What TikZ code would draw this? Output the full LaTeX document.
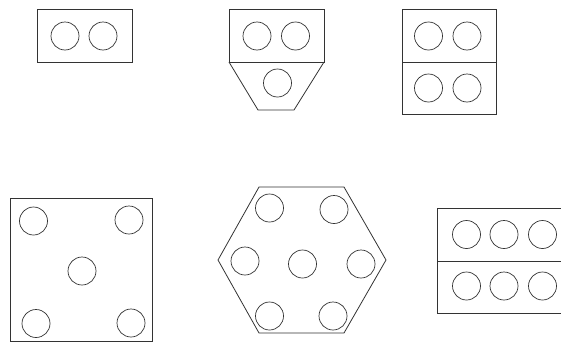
\documentclass[tikz,border=0pt]{standalone}
\usetikzlibrary{positioning}
\tikzset{
  hole/.style={draw=black!80, circle, minimum size=28pt, inner sep=0pt, line width=0.7pt},
  plate/.style={draw=black!80, line width=0.8pt}
}
\begin{document}
\begin{tikzpicture}[x=1pt,y=-1pt]
\useasboundingbox (0,0) rectangle (561,343);
\clip (0,0) rectangle (561,343);
% Two holes in a row
\draw[plate] (37,9) rectangle (132,62);
\foreach \x/\n in {65/a,103/b} \node[hole] (one\n) at (\x,36) {};
% Two holes over one
\draw[plate] (229,9) rectangle (324,62);
\draw[plate] (229,62) -- (258,110) -- (294,110) -- (324,62);
\foreach \x/\n in {257/a,295.5/b} \node[hole] (two\n) at (\x,36) {};
\node[hole] (twoc) at (277.5,83) {};
% Two over two
\draw[plate] (402,9) rectangle (496,114);
\draw[plate] (402,62) -- (496,62);
\foreach \x/\n in {428.5/a,467/b} {
  \node[hole] (three\n) at (\x,36) {};
  \node[hole] (three\n d) at (\x,88) {};
}
% Square with five holes
\draw[plate] (10,198) rectangle (152,341.5);
\foreach \x/\y/\n in {33.5/221/a,129/220/b,82/271/c,36/323.5/d,131/323/e}
  \node[hole] (four\n) at (\x,\y) {};
% Hexagon with seven holes
\draw[plate] (259,187) -- (344,187) -- (386,260) -- (344,333) -- (259,333) -- (218,260) -- cycle;
\foreach \x/\y/\n in {269.5/208/a,334/209.5/b,245/261/c,302.5/264/d,361/264/e,269.5/316/f,333/316/g}
  \node[hole] (five\n) at (\x,\y) {};
% Three over three
\draw[plate] (575,208) -- (437,208) -- (437,313) -- (575,313);
\draw[plate] (437,261) -- (575,261);
\foreach \x/\n in {466.5/a,504/b,542.5/c} {
  \node[hole] (six\n) at (\x,234.5) {};
  \node[hole] (six\n d) at (\x,286) {};
}
\end{tikzpicture}
\end{document}
